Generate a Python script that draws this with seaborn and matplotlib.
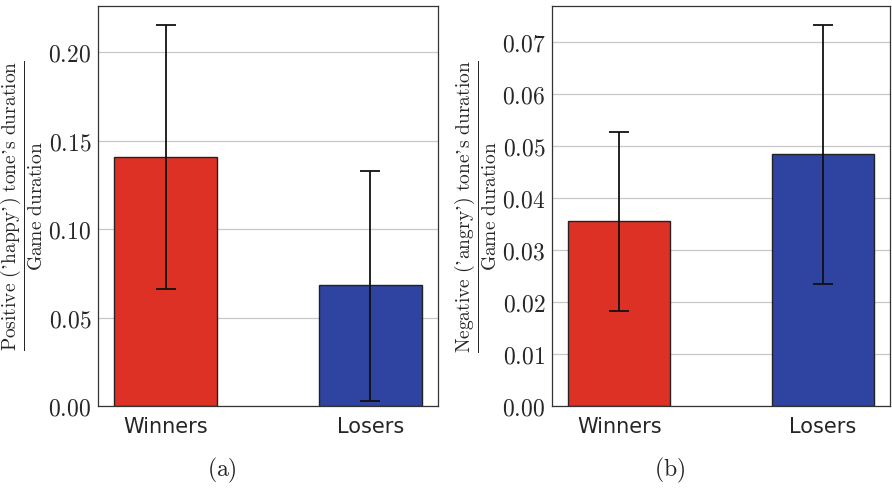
import numpy as np
import pandas as pd
import matplotlib
matplotlib.use("Agg")
import matplotlib.pyplot as plt
import seaborn as sns

groups = ["Winners", "Losers"]
colors = ["#DD3125", "#2E44A0"]

# panel (a): positive ('happy') tone
happyMean = [0.1405, 0.0682]
happyLow = [0.0660, 0.0030]
happyHigh = [0.2150, 0.1330]

# panel (b): negative ('angry') tone
angryMean = [0.0355, 0.0484]
angryLow = [0.0183, 0.0235]
angryHigh = [0.0526, 0.0733]

yticksA = [0.00, 0.05, 0.10, 0.15, 0.20]
yticksB = [0.00, 0.01, 0.02, 0.03, 0.04, 0.05, 0.06, 0.07]

sns.set_style("white")
plt.rcParams["mathtext.fontset"] = "cm"
plt.rcParams["font.family"] = ["DejaVu Sans"]

fig = plt.figure(figsize=(8.92, 4.9), dpi=100)
axA = fig.add_axes([0.110, 0.171, 0.381, 0.817])
axB = fig.add_axes([0.619, 0.171, 0.379, 0.817])


def drawPanel(ax, means, lows, highs, yticks, ymax, label):
    df = pd.DataFrame({"group": groups, "value": means})
    sns.barplot(data=df, x="group", y="value", hue="group", palette=colors,
                width=0.5, saturation=1, edgecolor="#222222", linewidth=1.0,
                legend=False, errorbar=None, ax=ax, zorder=2)
    m = np.array(means)
    err = [m - np.array(lows), np.array(highs) - m]
    ax.errorbar(range(len(groups)), m, yerr=err, fmt="none", ecolor="#111111",
                elinewidth=1.3, capsize=7, capthick=1.3, zorder=3)
    ax.set_xlim(-0.33, 1.33)
    ax.set_ylim(0, ymax)
    ax.set_yticks(yticks)
    ax.set_yticklabels([f"${t:.2f}$" for t in yticks], fontsize=17)
    ax.tick_params(axis="x", labelsize=15, length=4, width=0.8, color="#555555")
    ax.tick_params(axis="y", length=3, width=0.8, color="#555555", pad=2)
    ax.yaxis.grid(True, color="#c8c8c8", linewidth=0.9, zorder=0)
    ax.set_axisbelow(True)
    ax.set_xlabel("")
    ax.set_ylabel(label, fontsize=14, labelpad=2)
    for s in ax.spines.values():
        s.set_visible(True)
        s.set_color("#333333")
        s.set_linewidth(0.9)


drawPanel(axA, happyMean, happyLow, happyHigh, yticksA, 0.226,
          r"$\dfrac{\mathrm{Positive\ (’happy’)\ tone’s\ duration}}{\mathrm{Game\ duration}}$")
drawPanel(axB, angryMean, angryLow, angryHigh, yticksB, 0.0769,
          r"$\dfrac{\mathrm{Negative\ (’angry’)\ tone’s\ duration}}{\mathrm{Game\ duration}}$")

fig.text(0.249, 0.04, r"$\mathrm{(a)}$", ha="center", va="center", fontsize=17)
fig.text(0.751, 0.04, r"$\mathrm{(b)}$", ha="center", va="center", fontsize=17)

fig.savefig("out.png", dpi=100)
